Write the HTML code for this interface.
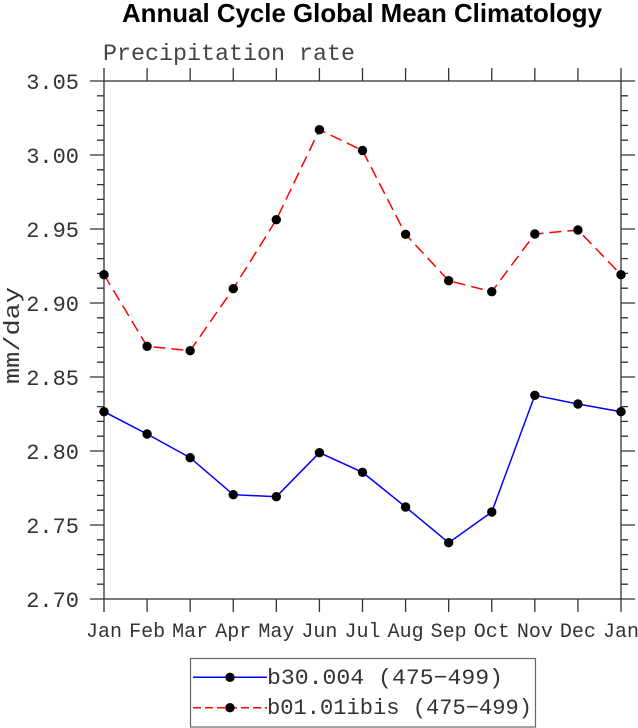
<!DOCTYPE html>
<html><head><meta charset="utf-8"><style>html,body{margin:0;padding:0;background:#fff;}svg{display:block;}</style></head>
<body>
<svg width="638" height="728" viewBox="0 0 638 728" xmlns="http://www.w3.org/2000/svg">
<rect width="638" height="728" fill="#fff"/>
<text x="122" y="22" font-family="Liberation Sans, sans-serif" font-weight="bold" font-size="26" textLength="480" lengthAdjust="spacingAndGlyphs" fill="#000">Annual Cycle Global Mean Climatology</text>
<text x="103" y="60" font-family="Liberation Mono, monospace" font-size="23" textLength="252" lengthAdjust="spacingAndGlyphs" fill="#444">Precipitation rate</text>
<text transform="translate(19,384) rotate(-90)" font-family="Liberation Mono, monospace" font-size="22" textLength="97" lengthAdjust="spacingAndGlyphs" fill="#333">mm/day</text>
<g stroke="#333" stroke-width="1.3" fill="none">
<rect x="104" y="81" width="517" height="518"/>
<path d="M104 81H90M104 155H90M104 229H90M104 303H90M104 377H90M104 451H90M104 525H90M104 599H90
M621 81H635M621 155H635M621 229H635M621 303H635M621 377H635M621 451H635M621 525H635M621 599H635"/>
<path d="M104 95.8H97M104 110.6H97M104 125.4H97M104 140.2H97
M104 169.8H97M104 184.6H97M104 199.4H97M104 214.2H97
M104 243.8H97M104 258.6H97M104 273.4H97M104 288.2H97
M104 317.8H97M104 332.6H97M104 347.4H97M104 362.2H97
M104 391.8H97M104 406.6H97M104 421.4H97M104 436.2H97
M104 465.8H97M104 480.6H97M104 495.4H97M104 510.2H97
M104 539.8H97M104 554.6H97M104 569.4H97M104 584.2H97
M621 95.8H628M621 110.6H628M621 125.4H628M621 140.2H628
M621 169.8H628M621 184.6H628M621 199.4H628M621 214.2H628
M621 243.8H628M621 258.6H628M621 273.4H628M621 288.2H628
M621 317.8H628M621 332.6H628M621 347.4H628M621 362.2H628
M621 391.8H628M621 406.6H628M621 421.4H628M621 436.2H628
M621 465.8H628M621 480.6H628M621 495.4H628M621 510.2H628
M621 539.8H628M621 554.6H628M621 569.4H628M621 584.2H628"/>
<path d="M104 599V612M147.08 599V612M190.17 599V612M233.25 599V612M276.33 599V612M319.42 599V612M362.5 599V612M405.58 599V612M448.67 599V612M491.75 599V612M534.83 599V612M577.92 599V612M621 599V612
M104 81V68M147.08 81V68M190.17 81V68M233.25 81V68M276.33 81V68M319.42 81V68M362.5 81V68M405.58 81V68M448.67 81V68M491.75 81V68M534.83 81V68M577.92 81V68M621 81V68"/>
</g>
<g font-family="Liberation Mono, monospace" font-size="22" fill="#333" text-anchor="end">
<text x="79" y="89">3.05</text>
<text x="79" y="163">3.00</text>
<text x="79" y="237">2.95</text>
<text x="79" y="311">2.90</text>
<text x="79" y="385">2.85</text>
<text x="79" y="459">2.80</text>
<text x="79" y="533">2.75</text>
<text x="79" y="607">2.70</text>
</g>
<g font-family="Liberation Mono, monospace" font-size="20" fill="#333" text-anchor="middle">
<text x="104" y="637">Jan</text>
<text x="147.08" y="637">Feb</text>
<text x="190.17" y="637">Mar</text>
<text x="233.25" y="637">Apr</text>
<text x="276.33" y="637">May</text>
<text x="319.42" y="637">Jun</text>
<text x="362.5" y="637">Jul</text>
<text x="405.58" y="637">Aug</text>
<text x="448.67" y="637">Sep</text>
<text x="491.75" y="637">Oct</text>
<text x="534.83" y="637">Nov</text>
<text x="577.92" y="637">Dec</text>
<text x="621" y="637">Jan</text>
</g>
<polyline fill="none" stroke="#ff0000" stroke-width="1.5" stroke-dasharray="12 6" points="104,274.7 147.08,346.3 190.17,350.7 233.25,288.7 276.33,219.7 319.42,129.7 362.5,150.5 405.58,234.3 448.67,280.7 491.75,291.7 534.83,234 577.92,230 621,274.7"/>
<polyline fill="none" stroke="#0000ff" stroke-width="1.5" points="104,411.7 147.08,434 190.17,457.7 233.25,494.7 276.33,496.7 319.42,452.7 362.5,472.3 405.58,507 448.67,542.7 491.75,512 534.83,395.3 577.92,404 621,411.7"/>
<g fill="#000">
<circle cx="104" cy="274.7" r="4.7"/><circle cx="147.08" cy="346.3" r="4.7"/><circle cx="190.17" cy="350.7" r="4.7"/><circle cx="233.25" cy="288.7" r="4.7"/><circle cx="276.33" cy="219.7" r="4.7"/><circle cx="319.42" cy="129.7" r="4.7"/><circle cx="362.5" cy="150.5" r="4.7"/><circle cx="405.58" cy="234.3" r="4.7"/><circle cx="448.67" cy="280.7" r="4.7"/><circle cx="491.75" cy="291.7" r="4.7"/><circle cx="534.83" cy="234" r="4.7"/><circle cx="577.92" cy="230" r="4.7"/><circle cx="621" cy="274.7" r="4.7"/>
<circle cx="104" cy="411.7" r="4.7"/><circle cx="147.08" cy="434" r="4.7"/><circle cx="190.17" cy="457.7" r="4.7"/><circle cx="233.25" cy="494.7" r="4.7"/><circle cx="276.33" cy="496.7" r="4.7"/><circle cx="319.42" cy="452.7" r="4.7"/><circle cx="362.5" cy="472.3" r="4.7"/><circle cx="405.58" cy="507" r="4.7"/><circle cx="448.67" cy="542.7" r="4.7"/><circle cx="491.75" cy="512" r="4.7"/><circle cx="534.83" cy="395.3" r="4.7"/><circle cx="577.92" cy="404" r="4.7"/><circle cx="621" cy="411.7" r="4.7"/>
</g>
<rect x="190.5" y="658.5" width="345" height="68.5" fill="none" stroke="#666" stroke-width="1.2"/>
<line x1="193" y1="677.3" x2="267" y2="677.3" stroke="#0000ff" stroke-width="1.5"/>
<line x1="193" y1="707.7" x2="267" y2="707.7" stroke="#ff0000" stroke-width="1.5" stroke-dasharray="8 4"/>
<circle cx="230" cy="677.3" r="4.7" fill="#000"/>
<circle cx="230" cy="707.7" r="4.7" fill="#000"/>
<g font-family="Liberation Mono, monospace" font-size="22" fill="#333">
<text x="267" y="684" textLength="236" lengthAdjust="spacingAndGlyphs">b30.004 (475−499)</text>
<text x="267" y="714" textLength="265" lengthAdjust="spacingAndGlyphs">b01.01ibis (475−499)</text>
</g>
</svg>
</body></html>
